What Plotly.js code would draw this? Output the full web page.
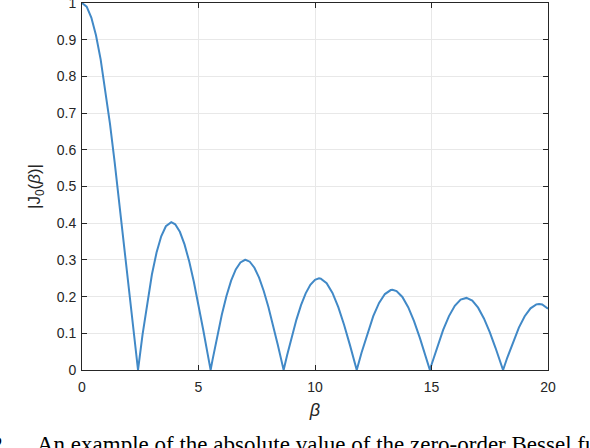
<!DOCTYPE html>
<html>
<head>
<meta charset="utf-8">
<script src="https://cdn.plot.ly/plotly-3.0.1.min.js"></script>
<style>
  html, body { margin: 0; padding: 0; background: #ffffff; }
  #chart { width: 590px; height: 448px; }
</style>
</head>
<body>
<div id="chart"></div>
<script>
// beta values (x) and |J0(beta)| values
const beta = [0,0.2,0.4,0.6,0.8,1.0,1.2,1.4,1.6,1.8,2.0,2.2,2.4,2.4048,2.6,2.8,3.0,3.2,3.4,3.6,3.8,3.8317,
  4.0,4.2,4.4,4.6,4.8,5.0,5.2,5.4,5.5201,5.6,5.8,6.0,6.2,6.4,6.6,6.8,7.0,7.0156,7.2,7.4,7.6,7.8,
  8.0,8.2,8.4,8.6,8.6537,8.8,9.0,9.2,9.4,9.6,9.8,10.0,10.1735,10.25,10.5,10.75,11.0,11.25,11.5,11.75,11.7915,
  12.0,12.25,12.5,12.75,13.0,13.25,13.3237,13.5,13.75,14.0,14.25,14.5,14.75,14.9309,
  15.0,15.25,15.5,15.75,16.0,16.25,16.4706,16.5,16.75,17.0,17.25,17.5,17.75,18.0,18.0711,
  18.25,18.5,18.75,19.0,19.25,19.5,19.6159,19.75,20.0];
const absJ0 = [1.0,0.9900,0.9604,0.9120,0.8463,0.7652,0.6711,0.5669,0.4554,0.3400,0.2239,0.1104,0.0025,0,0.0968,0.1850,0.2601,0.3202,0.3643,0.3918,0.4026,0.4028,
  0.3971,0.3766,0.3423,0.2961,0.2404,0.1776,0.1103,0.0412,0,0.0270,0.0917,0.1506,0.2017,0.2433,0.2740,0.2931,0.3001,0.3001,0.2951,0.2786,0.2516,0.2154,
  0.1717,0.1222,0.0692,0.0146,0,0.0392,0.0903,0.1367,0.1768,0.2090,0.2323,0.2459,0.2497,0.2490,0.2366,0.2101,0.1712,0.1227,0.0677,0.0097,0,
  0.0477,0.1009,0.1469,0.1829,0.2069,0.2178,0.2184,0.2150,0.1990,0.1711,0.1331,0.0875,0.0374,0,
  0.0142,0.0641,0.1092,0.1469,0.1749,0.1917,0.1965,0.1964,0.1889,0.1699,0.1406,0.1031,0.0598,0.0134,0,
  0.0333,0.0772,0.1157,0.1466,0.1681,0.1789,0.1801,0.1785,0.1670];

const xTickVals = [0, 5, 10, 15, 20];
const yTickVals = [0, 0.1, 0.2, 0.3, 0.4, 0.5, 0.6, 0.7, 0.8, 0.9, 1];
const xTitle = '<i>β</i>';
const yTitle = '|J<sub>0</sub>(<i>β</i>)|';
const captionNum = 'Fig. 2.';
const captionText = 'An example of the absolute value of the zero-order Bessel function of the first kind.';

const W = 590, H = 448;
const margin = {l: 82, r: 42, t: 3, b: 78};
const plotW = W - margin.l - margin.r;
const plotH = H - margin.t - margin.b;
const px2x = p => (p - margin.l) / plotW;
const py2y = p => (H - margin.b - p) / plotH;

const sans = 'Liberation Sans, Arial, sans-serif';
const axisCommon = {
  showline: true, linecolor: '#262626', linewidth: 1, mirror: 'ticks',
  ticks: 'inside', ticklen: 5, tickwidth: 1, tickcolor: '#262626',
  showgrid: true, gridcolor: '#e8e8e8', gridwidth: 1,
  zeroline: false, automargin: false, ticklabeloverflow: 'allow',
  tickfont: {family: sans, size: 14, color: '#262626'}
};

const trace = {
  x: beta, y: absJ0, type: 'scatter', mode: 'lines',
  line: {color: '#4189c7', width: 2}, hoverinfo: 'skip'
};

const layout = {
  width: W, height: H, margin: margin,
  paper_bgcolor: '#ffffff', plot_bgcolor: '#ffffff',
  showlegend: false,
  xaxis: Object.assign({}, axisCommon, {
    range: [0, 20], tickvals: xTickVals, ticklabelstandoff: 4,
    title: {text: xTitle, standoff: 9, font: {family: sans, size: 18, color: '#262626'}}
  }),
  yaxis: Object.assign({}, axisCommon, {
    range: [0, 1], tickvals: yTickVals, ticklabelstandoff: 2,
    title: {text: yTitle, standoff: 11, font: {family: sans, size: 17, color: '#262626'}}
  }),
  annotations: [
    {xref: 'paper', yref: 'paper', x: px2x(10), y: py2y(430), xanchor: 'right', yanchor: 'top',
     text: captionNum, showarrow: false,
     font: {family: 'Liberation Serif, Times New Roman, serif', size: 23, color: '#000000'}},
    {xref: 'paper', yref: 'paper', x: px2x(35), y: py2y(430), xanchor: 'left', yanchor: 'top',
     text: captionText, showarrow: false,
     font: {family: 'Liberation Serif, Times New Roman, serif', size: 23, color: '#000000'}}
  ]
};

Plotly.newPlot('chart', [trace], layout, {staticPlot: true, displayModeBar: false});
</script>
</body>
</html>
